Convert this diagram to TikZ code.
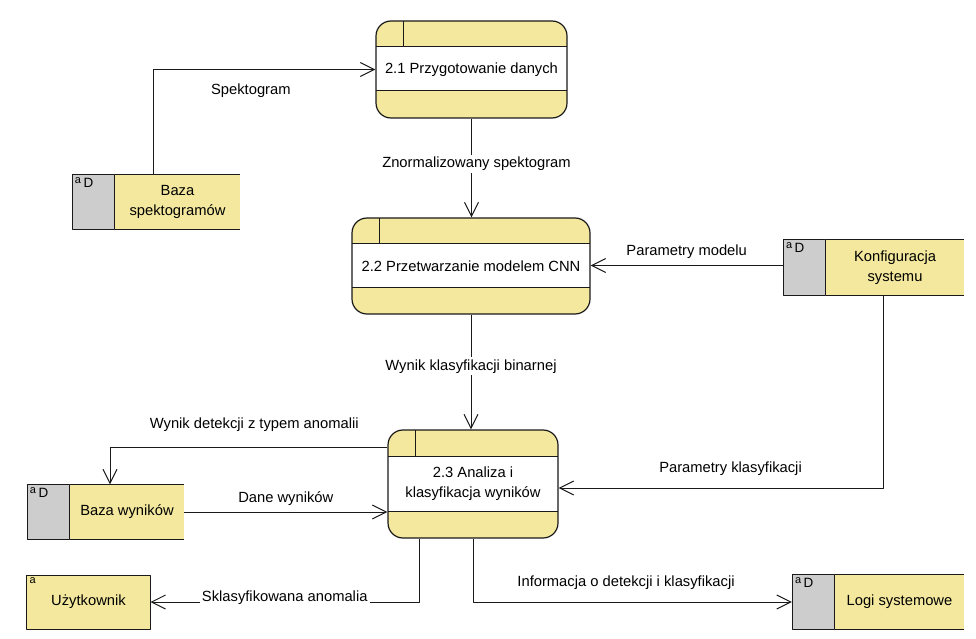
\documentclass[tikz,border=0pt]{standalone}
\usepackage{fontspec}
\setmainfont{Liberation Sans}
\usetikzlibrary{positioning,arrows.meta}
\definecolor{procfill}{HTML}{F3E89D}
\definecolor{tagfill}{HTML}{CDCDCD}
\definecolor{linecol}{HTML}{1A1A1A}

\begin{document}
\begin{tikzpicture}[x=1bp,y=-1bp,>={Straight Barb[length=14bp,width=14bp]},line join=bevel,
    every node/.style={font=\fontsize{14.8}{20}\selectfont},
    flow/.style={->,draw=linecol,line width=1bp},
    lbl/.style={inner sep=2bp},
    process/.style={draw=linecol,line width=1.2bp,fill=procfill,rounded corners=15bp,inner sep=0pt,align=center,
      path picture={
        \fill[white,sharp corners] ([yshift=-26bp]path picture bounding box.north west) rectangle ([yshift=27bp]path picture bounding box.south east);
        \draw[linecol,line width=1bp,sharp corners] ([yshift=-26bp]path picture bounding box.north west) -- ([yshift=-26bp]path picture bounding box.north east)
          ([yshift=27bp]path picture bounding box.south west) -- ([yshift=27bp]path picture bounding box.south east)
          ([xshift=27bp]path picture bounding box.north west) -- ([xshift=27bp,yshift=-26bp]path picture bounding box.north west);
      }},
    store/.style={fill=procfill,minimum height=55bp,inner sep=0pt,align=center,
      append after command={(\tikzlastnode.north west) edge[draw=linecol,line width=1bp] (\tikzlastnode.north east)
        (\tikzlastnode.south west) edge[draw=linecol,line width=1bp] (\tikzlastnode.south east)}},
    tag/.style={draw=linecol,line width=1bp,fill=tagfill,minimum width=42bp,minimum height=55bp,inner sep=0pt,
      label={[anchor=north west,inner sep=3bp]north west:{\fontsize{11}{11}\selectfont\raisebox{4bp}{a}}\,{\fontsize{13.5}{13.5}\selectfont D}}},
    entity/.style={draw=linecol,line width=1bp,fill=procfill,minimum width=123bp,minimum height=54bp,inner sep=0pt,
      label={[anchor=north west,inner sep=3bp,font=\fontsize{11}{11}\selectfont]north west:a}},
  ]
  \useasboundingbox (0,0) rectangle (976,639);
  % Node: p_21
  \node[process,minimum width=191bp,minimum height=97bp] (p_21) at (471.5,69.5) {2.1 Przygotowanie danych};
  % Node: p_22
  \node[process,minimum width=238bp,minimum height=96bp] (p_22) at (471,266) {2.2 Przetwarzanie modelem CNN};
  % Node: p_23
  \node[process,minimum width=170bp,minimum height=108bp] (p_23) at (473,484) {2.3 Analiza i\\klasyfikacja wyników};
  % Node: s_spek
  \node[store,minimum width=125bp] (s_spek) at (177.5,202) {Baza\\spektogramów};
  \node[tag,left=0pt of s_spek] (t_spek) {};
  % Node: s_konf
  \node[store,minimum width=138bp] (s_konf) at (895,267.5) {Konfiguracja\\systemu};
  \node[tag,left=0pt of s_konf] (t_konf) {};
  % Node: s_wyn
  \node[store,minimum width=114bp] (s_wyn) at (127,512) {Baza wyników};
  \node[tag,left=0pt of s_wyn] (t_wyn) {};
  % Node: s_logi
  \node[store,minimum width=129bp] (s_logi) at (899.5,602) {Logi systemowe};
  \node[tag,left=0pt of s_logi] (t_logi) {};
  % Node: e_user
  \node[entity] (e_user) at (88.5,602) {Użytkownik};
  % Edge: s_spek -> p_21
  \draw[flow] ([xshift=-24.5bp]s_spek.north) |- node[lbl,pos=0.72,below=11.5bp] {Spektogram} (p_21);
  % Edge: p_21 -> p_22
  \draw[flow] (p_21.south) -- node[lbl,pos=0.46,fill=white,xshift=5bp] {Znormalizowany spektogram} (p_21.south |- p_22.north);
  % Edge: s_konf -> p_22
  \draw[flow] ([yshift=2bp]t_konf.west) -- node[lbl,above=4bp] {Parametry modelu} ([yshift=2bp]t_konf.west -| p_22.east);
  % Edge: p_22 -> p_23
  \draw[flow] (p_22.south) -- node[lbl,pos=0.45,fill=white] {Wynik klasyfikacji binarnej} (p_22.south |- p_23.north);
  % Edge: s_konf -> p_23
  \draw[flow] ([xshift=-12bp]s_konf.south) |- node[lbl,pos=0.735,above=10bp] {Parametry klasyfikacji} ([yshift=-4bp]p_23.east);
  % Edge: p_23 -> s_wyn
  \draw[flow] ([yshift=37bp]p_23.west) -| node[lbl,pos=0.24,above=13bp] {Wynik detekcji z typem anomalii} ([xshift=-17bp]s_wyn.north);
  % Edge: s_wyn -> p_23
  \draw[flow] (s_wyn.east) -- node[lbl,above=4bp] {Dane wyników} (s_wyn.east -| p_23.west);
  % Edge: p_23 -> e_user
  \draw[flow] ([xshift=-54bp]p_23.south) |- node[lbl,pos=0.75,fill=white,yshift=4bp] {Sklasyfikowana anomalia} (e_user.east);
  % Edge: p_23 -> s_logi
  \draw[flow] (p_23.south) |- node[lbl,pos=0.74,above=10bp] {Informacja o detekcji i klasyfikacji} (t_logi.west);
\end{tikzpicture}
\end{document}
